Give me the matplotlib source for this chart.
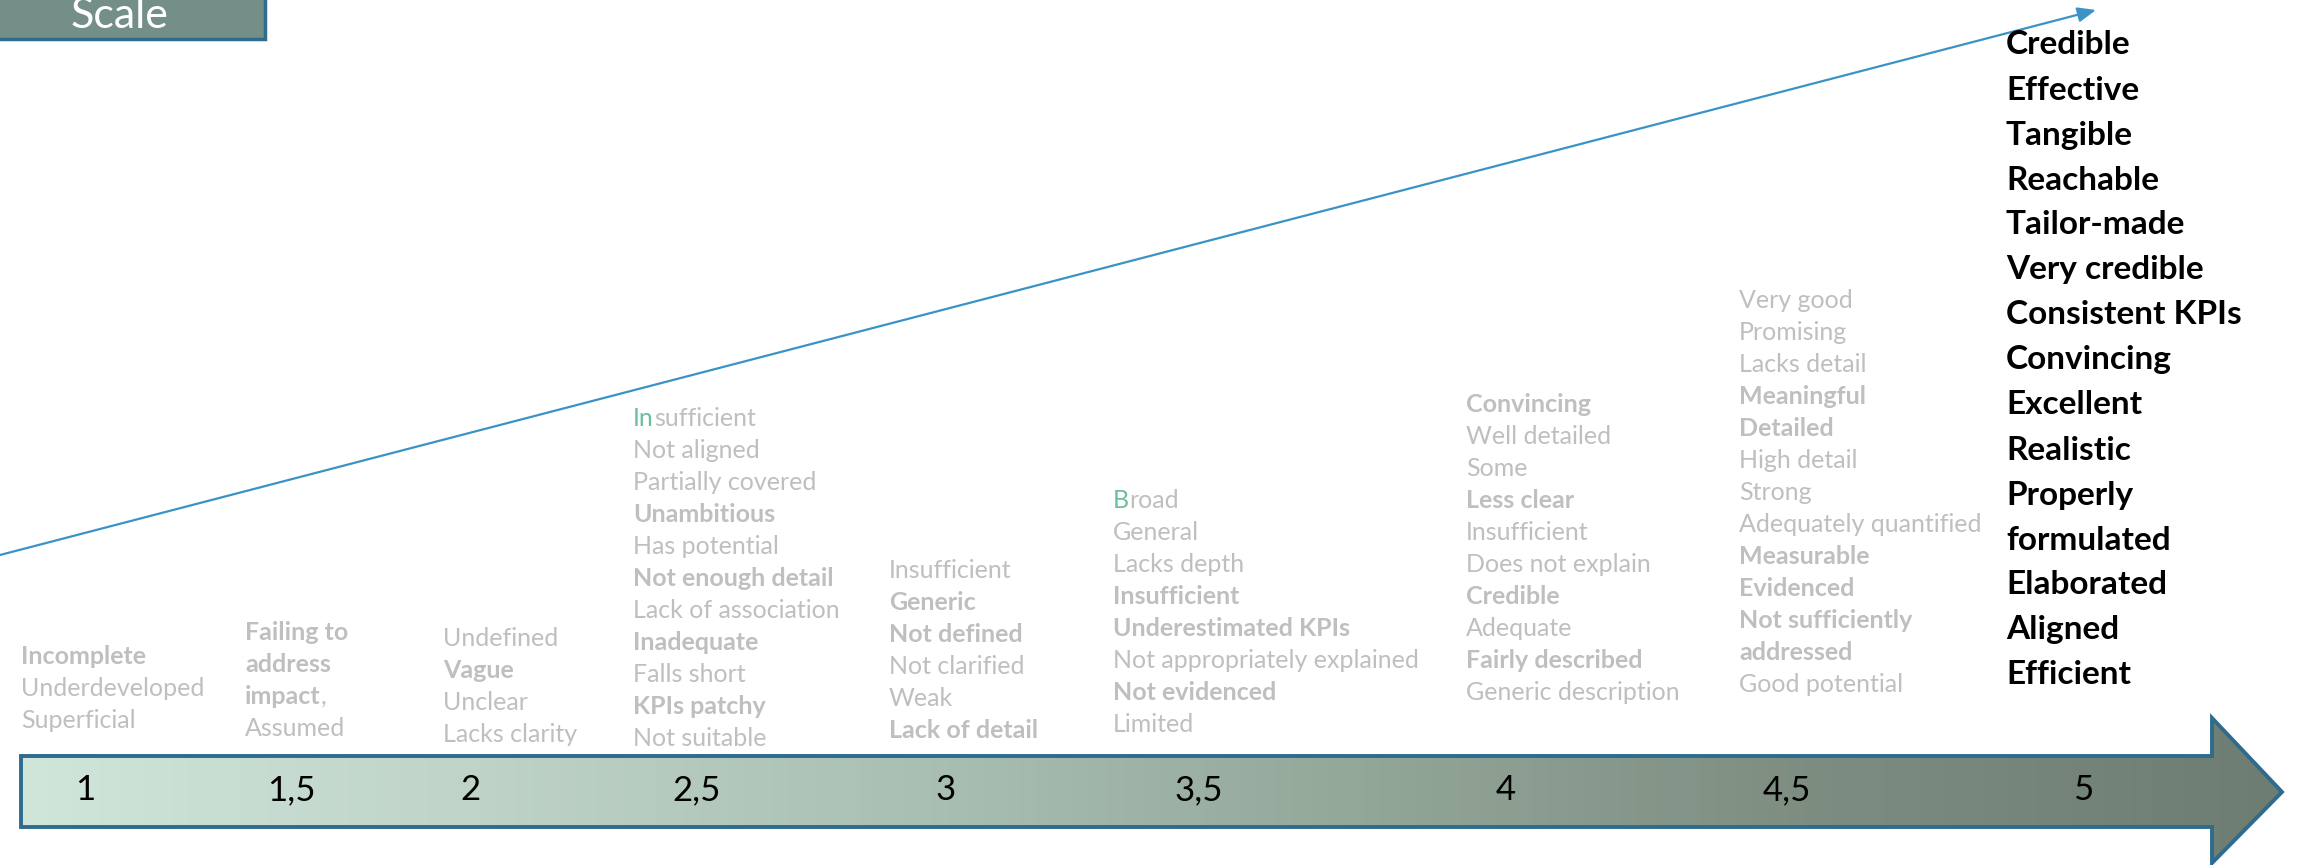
import numpy as np
import matplotlib.pyplot as plt
from matplotlib.colors import LinearSegmentedColormap
from matplotlib.patches import Polygon, Rectangle

plt.rcParams['font.family'] = ['Lato', 'DejaVu Sans']

# scores along the scale
scores = [1, 1.5, 2, 2.5, 3, 3.5, 4, 4.5, 5]
score_labels = ["1", "1,5", "2", "2,5", "3", "3,5", "4", "4,5", "5"]

# descriptors for each score: (text, bold)
desc_1 = [("Incomplete", True), ("Underdeveloped", False), ("Superficial", False)]
desc_15 = [("Failing to", True), ("address", True), ("impact|,", True), ("Assumed", False)]
desc_2 = [("Undefined", False), ("Vague", True), ("Unclear", False), ("Lacks clarity", False)]
desc_25 = [("In|sufficient", False), ("Not aligned", False), ("Partially covered", False),
           ("Unambitious", True), ("Has potential", False), ("Not enough detail", True),
           ("Lack of association", False), ("Inadequate", True), ("Falls short", False),
           ("KPIs patchy", True), ("Not suitable", False)]
desc_3 = [("Insufficient", False), ("Generic", True), ("Not defined", True),
          ("Not clarified", False), ("Weak", False), ("Lack of detail", True)]
desc_35 = [("B|road", False), ("General", False), ("Lacks depth", False), ("Insufficient", True),
           ("Underestimated KPIs", True), ("Not appropriately explained", False),
           ("Not evidenced", True), ("Limited", False)]
desc_4 = [("Convincing", True), ("Well detailed", False), ("Some", False), ("Less clear", True),
          ("Insufficient", False), ("Does not explain", False), ("Credible", True),
          ("Adequate", False), ("Fairly described", True), ("Generic description", False)]
desc_45 = [("Very good", False), ("Promising", False), ("Lacks detail", False),
           ("Meaningful", True), ("Detailed", True), ("High detail", False), ("Strong", False),
           ("Adequately quantified", False), ("Measurable", True), ("Evidenced", True),
           ("Not sufficiently", True), ("addressed", True), ("Good potential", False)]
desc_5 = ["Credible", "Effective", "Tangible", "Reachable", "Tailor-made", "Very credible",
          "Consistent KPIs", "Convincing", "Excellent", "Realistic", "Properly",
          "formulated", "Elaborated", "Aligned", "Efficient"]
descriptors = [desc_1, desc_15, desc_2, desc_25, desc_3, desc_35, desc_4, desc_45]

# layout (pixels)
W, H = 2303, 865
label_x = [85, 291, 470, 697, 946, 1199, 1506, 1787, 2083]
col_x = [21, 245, 443, 633, 889, 1113, 1466, 1739, 2006]
col_y0 = [657, 633, 638, 418, 571, 501, 404, 301, 45]
gray = "#bfbfbf"
green = "#6dbf9c"

fig = plt.figure(figsize=(W / 100, H / 100), dpi=100)
ax = fig.add_axes([0, 0, 1, 1])
ax.set_xlim(0, W)
ax.set_ylim(H, 0)
ax.axis("off")

# big gradient arrow
pts = [(21, 756), (2212, 756), (2212, 718), (2282, 792), (2212, 863), (2212, 827), (21, 827)]
arrow = Polygon(pts, closed=True, facecolor="none", edgecolor="#2e6b8c", lw=2.8, zorder=3)
ax.add_patch(arrow)
cmap = LinearSegmentedColormap.from_list("g", ["#d0e6db", "#bfd3c7", "#a9bfb2", "#92a698", "#7c8c80", "#6e7d72"])
grad = np.linspace(0, 1, 512).reshape(1, -1)
im = ax.imshow(grad, cmap=cmap, extent=[21, 2282, 863, 718], aspect="auto", zorder=2)
im.set_clip_path(arrow)

for x, lab in zip(label_x, score_labels):
    ax.text(x, 790, lab, ha="center", va="center", fontsize=25, color="black", zorder=4)

# rising trend line
ax.annotate("", xy=(2096, 10), xytext=(0, 555),
            arrowprops=dict(arrowstyle="-|>,head_length=1.1,head_width=0.45",
                            color="#3a93c4", lw=1.6, shrinkA=0, shrinkB=0))

# scale box
ax.add_patch(Rectangle((-5, -5), 270, 44, facecolor="#738f88", edgecolor="#2e6b8c", lw=2.5))
ax.text(120, 16, "Scale", ha="center", va="center", fontsize=31, color="white")


def draw_line(x, y, text, bold):
    weight = "bold" if bold else "normal"
    if "|" in text:
        first, rest = text.split("|")
        c1 = green if first in ("In", "B") else gray
        w2 = "normal" if rest == "," else weight
        t = ax.text(x, y, first, ha="left", va="center", fontsize=18, color=c1, fontweight=weight)
        ax.annotate(rest, xy=(1, 0), xycoords=t, ha="left", va="bottom",
                    fontsize=18, color=gray, fontweight=w2)
    else:
        ax.text(x, y, text, ha="left", va="center", fontsize=18, color=gray, fontweight=weight)


for x, y0, lines in zip(col_x[:-1], col_y0[:-1], descriptors):
    for i, (txt, b) in enumerate(lines):
        draw_line(x, y0 + 32 * i, txt, b)

for i, txt in enumerate(desc_5):
    ax.text(col_x[-1], col_y0[-1] + 45 * i, txt, ha="left", va="center",
            fontsize=24, color="black", fontweight="bold")

fig.savefig("out.png", dpi=100)
